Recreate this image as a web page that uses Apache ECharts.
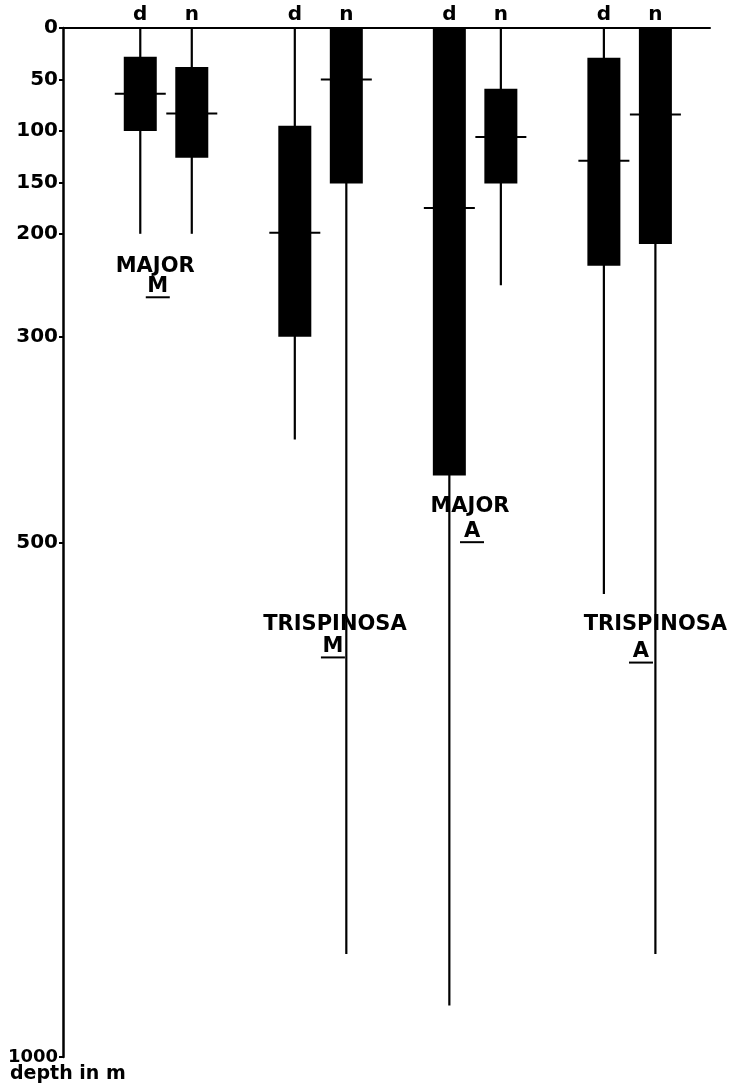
<!DOCTYPE html>
<html><head><meta charset="utf-8">
<script src="https://cdn.jsdelivr.net/npm/echarts@6/dist/echarts.min.js"></script>
<style>html,body{margin:0;padding:0;background:#fff}#c{width:734px;height:1090px}</style>
</head><body><div id="c"></div>
<script>
// ---- data ----
const groupNames = ['MAJOR', 'TRISPINOSA', 'MAJOR', 'TRISPINOSA'];
const groupLetters = ['M', 'M', 'A', 'A'];
const subLabels = ['d', 'n'];
// boxes in order: group1 d, group1 n, group2 d, group2 n, ...
const whiskerLow  = [0, 0, 0, 0, 0, 0, 0, 0];
const boxTop      = [28, 38, 95, 0, 0, 59, 29, 0];
const medians     = [64, 83, 199, 50, 175, 106, 129, 84];
const boxBottom   = [100, 126, 300, 151, 435, 151, 231, 210];
const whiskerHigh = [200, 200, 400, 900, 950, 250, 550, 900];
const depthTicks  = [0, 50, 100, 150, 200, 300, 500, 1000];

// ---- layout (not data) ----
const slotOf = i => Math.floor(i / 2) * 3 + 1.5 + (i % 2);
const labelLayout = [
  {nx: 1.79, ny: 232, lx: 1.84, ly: 251},
  {nx: 5.28, ny: 580, lx: 5.24, ly: 601},
  {nx: 7.90, ny: 465, lx: 7.94, ly: 489},
  {nx: 11.50, ny: 580, lx: 11.22, ly: 606}
];
const FONT = 'DejaVu Sans';

const boxData = medians.map((m, i) => [slotOf(i), whiskerLow[i], boxTop[i], m, boxBottom[i], whiskerHigh[i]]);
const slotValues = medians.map((m, i) => slotOf(i));

const chart = echarts.init(document.getElementById('c'), null, {renderer: 'canvas'});
chart.setOption({
  animation: false,
  backgroundColor: '#fff',
  grid: {left: 63, right: 24, top: 28, bottom: 33, containLabel: false},
  xAxis: {
    type: 'value', position: 'top', min: 0, max: 12.56,
    axisLine: {show: true, onZero: false, lineStyle: {color: '#000', width: 2}},
    axisTick: {show: false},
    splitLine: {show: false},
    axisLabel: {
      customValues: slotValues,
      formatter: v => { const i = slotValues.indexOf(v); return i >= 0 ? subLabels[i % 2] : ''; },
      color: '#000', fontFamily: FONT, fontWeight: 'bold', fontSize: 20, margin: 3
    }
  },
  yAxis: {
    type: 'value', inverse: true, min: 0, max: 1000,
    axisLine: {show: true, onZero: false, lineStyle: {color: '#000', width: 2.5}},
    axisTick: {show: true, customValues: depthTicks, length: 4, lineStyle: {color: '#000', width: 2}},
    splitLine: {show: false},
    axisLabel: {
      customValues: depthTicks,
      formatter: v => v === 1000 ? '{s|1000}' : String(v),
      color: '#000', fontFamily: FONT, fontWeight: 'bold', fontSize: 20, margin: 5,
      rich: {s: {fontSize: 18, fontFamily: FONT, fontWeight: 'bold', color: '#000'}}
    }
  },
  graphic: [{
    type: 'text', left: 10, top: 1065,
    style: {text: 'depth in m', fontFamily: FONT, fontWeight: 'bold', fontSize: 19, fill: '#000'}
  }],
  series: [{
    type: 'custom',
    clip: false,
    data: boxData,
    encode: {x: 0, y: [1, 2, 3, 4, 5]},
    renderItem: (params, api) => {
      const x = api.value(0);
      const lo = api.coord([x, api.value(1)]);
      const q1 = api.coord([x, api.value(2)]);
      const md = api.coord([x, api.value(3)]);
      const q3 = api.coord([x, api.value(4)]);
      const hi = api.coord([x, api.value(5)]);
      const cx = lo[0], hw = 16.5;
      return {type: 'group', children: [
        {type: 'line', shape: {x1: cx, y1: lo[1], x2: cx, y2: hi[1]}, style: {stroke: '#000', lineWidth: 2.2}},
        {type: 'rect', shape: {x: cx - hw, y: q1[1], width: 2 * hw, height: q3[1] - q1[1]}, style: {fill: '#000'}},
        {type: 'line', shape: {x1: cx - hw - 9, y1: md[1], x2: cx + hw + 9, y2: md[1]}, style: {stroke: '#000', lineWidth: 2}}
      ]};
    }
  }, {
    type: 'custom',
    clip: false,
    data: groupNames.map((n, i) => [labelLayout[i].nx, labelLayout[i].ny, labelLayout[i].lx, labelLayout[i].ly]),
    encode: {x: [0, 2], y: [1, 3]},
    renderItem: (params, api) => {
      const i = params.dataIndex;
      const np = api.coord([api.value(0), api.value(1)]);
      const lp = api.coord([api.value(2), api.value(3)]);
      return {type: 'group', children: [
        {type: 'text', x: np[0], y: np[1], style: {text: groupNames[i], fontFamily: FONT, fontWeight: 'bold', fontSize: 21, fill: '#000', align: 'center', verticalAlign: 'middle'}},
        {type: 'text', x: lp[0], y: lp[1], style: {text: groupLetters[i], fontFamily: FONT, fontWeight: 'bold', fontSize: 21, fill: '#000', align: 'center', verticalAlign: 'middle'}},
        {type: 'line', shape: {x1: lp[0] - 12, y1: lp[1] + 11, x2: lp[0] + 12, y2: lp[1] + 11}, style: {stroke: '#000', lineWidth: 2}}
      ]};
    }
  }]
});
</script>
</body></html>
